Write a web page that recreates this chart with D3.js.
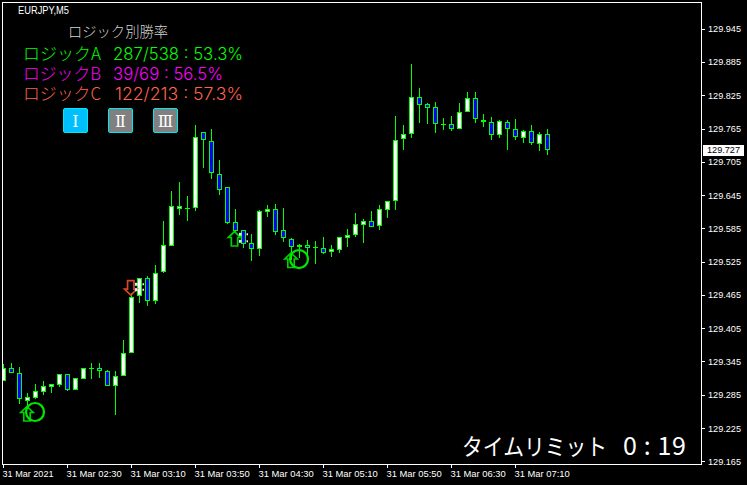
<!DOCTYPE html>
<html><head><meta charset="utf-8">
<style>
html,body{margin:0;padding:0;background:#000;overflow:hidden}
svg{display:block}
.jp{font-family:"Noto Sans CJK JP","Noto Sans",sans-serif}
.num{font-family:"Inter","Noto Sans CJK JP",sans-serif;font-weight:300}
.ax text{font-family:"Liberation Sans",sans-serif;font-size:9.4px;fill:#fff}
</style></head><body>
<script src="https://cdn.jsdelivr.net/npm/d3@7/dist/d3.min.js"></script>
<script>
const symbol = "EURJPY,M5";
const opens = [129.309,129.333,129.3236,129.2742,129.2796,129.2905,129.2995,129.3031,129.322,129.294,129.314,129.333,129.333,129.3273,129.3013,129.3183,129.3597,129.4636,129.495,129.4545,129.5069,129.5537,129.6204,129.6212,129.6222,129.7582,129.7419,129.6825,129.659,129.5959,129.5815,129.558,129.5483,129.615,129.6193,129.5815,129.5653,129.5514,129.5545,129.5508,129.549,129.5429,129.5465,129.5682,129.5736,129.5916,129.598,129.5898,129.6186,129.6338,129.7456,129.7546,129.821,129.8087,129.8032,129.773,129.773,129.7636,129.794,129.8195,129.7798,129.776,129.753,129.776,129.7636,129.7474,129.76,129.738,129.7546];
const highs = [129.340,129.3422,129.3345,129.2876,129.3038,129.3098,129.3038,129.322,129.322,129.3147,129.3327,129.3417,129.342,129.3296,129.3278,129.3837,129.4685,129.495,129.4991,129.5189,129.5983,129.6523,129.6686,129.6433,129.7713,129.7582,129.7641,129.7082,129.659,129.6199,129.5815,129.5748,129.6181,129.6271,129.6289,129.6222,129.5676,129.5568,129.564,129.5622,129.5699,129.555,129.5689,129.5833,129.6121,129.6013,129.6158,129.6271,129.6338,129.7876,129.7713,129.8813,129.838,129.811,129.8128,129.784,129.7876,129.811,129.8308,129.831,129.7912,129.7858,129.7804,129.78,129.7822,129.7623,129.7713,129.7587,129.764];
const lows = [129.309,129.3247,129.2683,129.2629,129.2773,129.2845,129.2887,129.299,129.2923,129.294,129.314,129.3134,129.3158,129.301,129.2485,129.3183,129.3597,129.4509,129.4455,129.449,129.505,129.5537,129.609,129.5983,129.6168,129.6938,129.674,129.6451,129.5929,129.5784,129.5496,129.5261,129.5352,129.606,129.573,129.5604,129.5279,129.5315,129.5333,129.5207,129.5388,129.5328,129.54,129.5508,129.5689,129.558,129.588,129.582,129.6031,129.618,129.7263,129.7479,129.7744,129.774,129.7569,129.762,129.7605,129.7636,129.794,129.775,129.7677,129.7443,129.7479,129.7263,129.7443,129.7389,129.7353,129.7245,129.7173];
const closes = [129.333,129.3247,129.2768,129.2804,129.2912,129.3002,129.3038,129.322,129.2941,129.3147,129.3327,129.333,129.3284,129.3013,129.3183,129.3597,129.4618,129.495,129.4545,129.505,129.5544,129.6248,129.6248,129.6212,129.7491,129.7448,129.6843,129.6547,129.5952,129.5808,129.5562,129.5483,129.6158,129.6193,129.579,129.5676,129.5519,129.555,129.5501,129.5508,129.5411,129.5472,129.5689,129.5725,129.5923,129.5977,129.588,129.6193,129.6338,129.7438,129.7546,129.8213,129.8079,129.8025,129.7726,129.773,129.7647,129.7942,129.8195,129.7816,129.7762,129.7528,129.778,129.7636,129.7491,129.76,129.7383,129.7546,129.727];
const lastPrice = 129.727;
const priceTicks = [129.945,129.885,129.825,129.765,129.705,129.645,129.585,129.525,129.465,129.405,129.345,129.285,129.225,129.165];
const timeTickBars = [0,8,16,24,32,40,48,56,64];
const timeTickLabels = ["31 Mar 2021","31 Mar 02:30","31 Mar 03:10","31 Mar 03:50","31 Mar 04:30","31 Mar 05:10","31 Mar 05:50","31 Mar 06:30","31 Mar 07:10"];
const panelTitle = "ロジック別勝率";
const logicNames = ["ロジックA","ロジックB","ロジックC"];
const logicStats = ["287/538 : 53.3%","39/69 : 56.5%","122/213 : 57.3%"];
const logicColors = ["#00ff00","#ff00ff","#ff6347"];
const buttonLabels = ["Ⅰ","Ⅱ","Ⅲ"];
const buttonFills = ["#00bfff","#808080","#808080"];
const timerLabel = "タイムリミット";
const timerValue = "0 : 19";
const upArrows = [[3,129.2638],[28.94,129.5793],[36,129.5406]];
const downArrows = [[15.97,129.4648]];
const circles = [[4,129.2539],[37,129.5297]];
const fillDots = [[17,129.4842],[17,129.4743],[30,129.5743],[30,129.5617]];

const W=747,H=485;
const x=d3.scaleLinear().domain([0,68]).range([3,547]);
const y=d3.scaleLinear().domain([129.165,129.945]).range([461.3,28.7]);
const svg=d3.select("body").append("svg").attr("width",W).attr("height",H).style("background","#000");
svg.append("defs").append("clipPath").attr("id","plot").append("rect").attr("x",3).attr("y",3).attr("width",698).attr("height",461);

const plot=svg.append("g").attr("clip-path","url(#plot)").attr("shape-rendering","crispEdges");
const bars=plot.selectAll("g.c").data(opens.map((o,i)=>({i,o,h:highs[i],l:lows[i],c:closes[i]}))).join("g").attr("class","c");
const yTop=d=>Math.round(y(Math.max(d.o,d.c)));
const yBot=d=>Math.round(y(Math.min(d.o,d.c)));
bars.append("rect").attr("x",d=>x(d.i)).attr("width",1)
  .attr("y",d=>Math.round(y(d.h))).attr("height",d=>Math.max(1,Math.round(y(d.l))-Math.round(y(d.h))))
  .attr("fill","#00ff00");
bars.append("rect").attr("x",d=>x(d.i)-2).attr("width",5)
  .attr("y",yTop).attr("height",d=>Math.max(1,yBot(d)-yTop(d)))
  .attr("fill","#00ff00");
bars.append("rect").attr("x",d=>x(d.i)-1).attr("width",3)
  .attr("y",d=>yTop(d)+1).attr("height",d=>Math.max(0,yBot(d)-yTop(d)-2))
  .attr("fill",d=>d.c>=d.o?"#fff":"#0000ff");

// trade markers
const arrowUp=(cx,t)=>`M${cx},${t}L${cx+6.2},${t+6}H${cx+3.2}V${t+14.5}H${cx-3.2}V${t+6}H${cx-6.2}Z`;
const arrowDn=(cx,b)=>`M${cx},${b}L${cx+6.2},${b-6}H${cx+3.2}V${b-14.5}H${cx-3.2}V${b-6}H${cx-6.2}Z`;
const marks=svg.append("g");
marks.selectAll("path.up").data(upArrows).join("path").attr("class","up")
  .attr("d",d=>arrowUp(x(d[0]),y(d[1]))).attr("fill","none").attr("stroke","#00d000").attr("stroke-width",1.7);
marks.selectAll("path.dn").data(downArrows).join("path").attr("class","dn")
  .attr("d",d=>arrowDn(x(d[0]),y(d[1]))).attr("fill","none").attr("stroke","#d8452c").attr("stroke-width",1.7);
marks.selectAll("circle").data(circles).join("circle")
  .attr("cx",d=>x(d[0])).attr("cy",d=>y(d[1])).attr("r",9)
  .attr("fill","none").attr("stroke","#00e800").attr("stroke-width",2.2);
marks.selectAll("rect.l").data(fillDots).join("rect").attr("class","l")
  .attr("x",d=>x(d[0])-4).attr("y",d=>y(d[1])-1.5).attr("width",2.5).attr("height",3).attr("fill","#d8f0ff");
marks.selectAll("rect.r").data(fillDots).join("rect").attr("class","r")
  .attr("x",d=>x(d[0])+3.5).attr("y",d=>y(d[1])-1).attr("width",1.5).attr("height",2).attr("fill","#fff4d0");

// frame
svg.append("rect").attr("x",2.5).attr("y",2.5).attr("width",699).attr("height",462)
  .attr("fill","none").attr("stroke","#fff").attr("shape-rendering","crispEdges");

// axes
const yAxis=d3.axisRight(y).tickValues(priceTicks).tickSize(3).tickPadding(3).tickFormat(d3.format(".3f"));
const ya=svg.append("g").attr("class","ax").attr("transform","translate(702,0)").call(yAxis);
ya.select(".domain").remove();
ya.selectAll("line").attr("stroke","#fff").attr("shape-rendering","crispEdges");
ya.selectAll("text").attr("textLength",33).attr("lengthAdjust","spacingAndGlyphs");

const xAxis=d3.axisBottom(x).tickValues(timeTickBars).tickSize(3).tickPadding(2).tickFormat((d,i)=>timeTickLabels[i]);
const xa=svg.append("g").attr("class","ax").attr("transform","translate(0,465)").call(xAxis);
xa.select(".domain").remove();
xa.selectAll("line").attr("stroke","#fff").attr("shape-rendering","crispEdges");
xa.selectAll("text").attr("text-anchor","start").attr("dx",-1);
xa.selectAll("text").filter((d,i)=>i===0).attr("textLength",51).attr("lengthAdjust","spacingAndGlyphs");

// last price tag
const lp=svg.append("g");
lp.append("rect").attr("x",703).attr("y",Math.round(y(lastPrice))-5.5).attr("width",41).attr("height",11).attr("fill","#fff").attr("shape-rendering","crispEdges");
lp.append("text").attr("x",707).attr("y",y(lastPrice)+3.5).text(d3.format(".3f")(lastPrice))
  .attr("font-family","Liberation Sans").attr("font-size",9.4).attr("fill","#000").attr("textLength",33).attr("lengthAdjust","spacingAndGlyphs");

// symbol
svg.append("text").attr("x",18).attr("y",14).text(symbol).attr("font-family","Liberation Sans").attr("font-size",10)
  .attr("fill","#fff").attr("textLength",51).attr("lengthAdjust","spacingAndGlyphs");

// panel
svg.append("text").attr("class","jp").attr("x",68).attr("y",37).text(panelTitle).attr("font-size",14.5).attr("font-weight",300)
  .attr("fill","#d3d3d3").attr("textLength",100).attr("lengthAdjust","spacingAndGlyphs");
const rowX=[113,113,115], rowW=[130,110,128];
const rows=svg.selectAll("g.row").data(logicNames).join("g").attr("class","row");
rows.append("text").attr("class","jp").attr("x",23).attr("y",(d,i)=>60+i*20).text(d=>d)
  .attr("font-size",17).attr("font-weight",300).attr("fill",(d,i)=>logicColors[i])
  .attr("textLength",78).attr("lengthAdjust","spacingAndGlyphs");
rows.append("text").attr("class","num").attr("x",(d,i)=>rowX[i]).attr("y",(d,i)=>60+i*20).text((d,i)=>logicStats[i])
  .attr("font-size",17).attr("fill",(d,i)=>logicColors[i])
  .attr("textLength",(d,i)=>rowW[i]).attr("lengthAdjust","spacingAndGlyphs");

// buttons
const bx=[63,108,153];
const btn=svg.selectAll("g.btn").data(buttonLabels).join("g").attr("class","btn");
btn.append("rect").attr("x",(d,i)=>bx[i]+0.5).attr("y",108.5).attr("width",24).attr("height",24).attr("rx",1.5)
  .attr("fill",(d,i)=>buttonFills[i]).attr("stroke","#00e8f0");
btn.append("text").attr("x",(d,i)=>bx[i]+12.5).attr("y",127).attr("text-anchor","middle").text(d=>d)
  .attr("font-family","DejaVu Serif").attr("font-size",16).attr("fill","#fff");

// timer
svg.append("text").attr("class","jp").attr("x",462).attr("y",455).text(timerLabel).attr("font-size",23)
  .attr("fill","#fff").attr("textLength",145).attr("lengthAdjust","spacingAndGlyphs");
svg.append("text").attr("class","jp").attr("x",623).attr("y",455).text(timerValue).attr("font-size",25)
  .attr("fill","#fff").attr("textLength",63).attr("lengthAdjust","spacing");
</script></body></html>
